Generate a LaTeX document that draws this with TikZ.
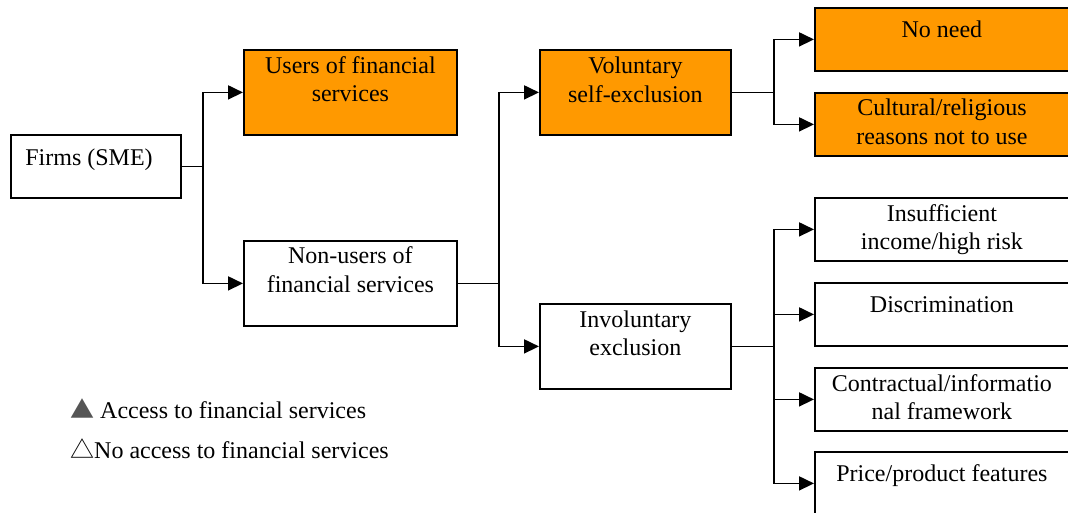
\documentclass[tikz,border=0pt]{standalone}
\usepackage{fontspec}
\setmainfont{Liberation Serif}
\newfontfamily\cjkfont{Noto Sans CJK SC}
\usetikzlibrary{arrows.meta,calc}
\definecolor{boxorange}{HTML}{FF9900}
\definecolor{tri}{HTML}{555555}
\begin{document}
\begin{tikzpicture}[x=1pt,y=-1pt,
  box/.style={draw=black, line width=1.8pt, rectangle, inner sep=0pt, anchor=north west},
  obox/.style={box, fill=boxorange},
  txt/.style={font=\fontsize{24}{28.4}\selectfont, align=center, inner sep=0pt, anchor=base},
  conn/.style={line width=1.8pt},
  arr/.style={line width=1.8pt, -{Triangle[length=15pt,width=14pt]}}]
\useasboundingbox (0,0) rectangle (1068,512);
% boxes
\node[box,  minimum width=170pt, minimum height=63pt] (firms) at (10,134) {};
\node[obox, minimum width=213pt, minimum height=85pt] (users) at (243,49) {};
\node[box,  minimum width=213pt, minimum height=85pt] (non) at (243,240) {};
\node[obox, minimum width=191pt, minimum height=85pt] (vol) at (539,49) {};
\node[box,  minimum width=191pt, minimum height=85pt] (invol) at (539,303) {};
\node[obox, minimum width=256pt, minimum height=63pt] (noneed) at (814,7) {};
\node[obox, minimum width=256pt, minimum height=63pt] (cult) at (814,92) {};
\node[box,  minimum width=256pt, minimum height=63pt] (insuf) at (814,197) {};
\node[box,  minimum width=256pt, minimum height=63pt] (discr) at (814,282) {};
\node[box,  minimum width=256pt, minimum height=63pt] (contr) at (814,367) {};
\node[box,  minimum width=256pt, minimum height=63pt] (price) at (814,451) {};
% texts (base = baseline of last line)
\node[txt] (tfirms) at (89,165) {Firms (SME)};
\node[txt] (tusers) at ($(users.north)+(0,52.5)$) {Users of financial\\services};
\node[txt] (tnon) at ($(non.north)+(0,52)$) {Non-users of\\financial services};
\node[txt] (tvol) at ($(vol.north)+(0,53)$) {Voluntary\\self-exclusion};
\node[txt] (tinvol) at ($(invol.north)+(0,52.5)$) {Involuntary\\exclusion};
\node[txt] (tnoneed) at ($(noneed.north)+(-1,30.5)$) {No need};
\node[txt] (tcult) at ($(cult.north)+(-1,52)$) {Cultural/religious\\reasons not to use};
\node[txt] (tinsuf) at ($(insuf.north)+(-1,52.5)$) {Insufficient\\income/high risk};
\node[txt] (tdiscr) at ($(discr.north)+(-1,30.7)$) {Discrimination};
\node[txt] (tcontr) at ($(contr.north)+(-1,52.7)$) {Contractual/informatio\\nal framework};
\node[txt] (tprice) at ($(price.north)+(-1,30.7)$) {Price/product features};
% connectors
\draw[conn] (firms.east) -- ++(21,0) coordinate (j1);
\draw[arr] (j1) |- (users.west);
\draw[arr] (j1) |- (non.west);
\draw[conn] (non.east) -- ++(41,0) coordinate (j2);
\draw[arr] (j2) |- (vol.west);
\draw[arr] (j2) |- (invol.west);
\draw[conn] (vol.east) -- ++(42,0) coordinate (j3);
\draw[arr] (j3) |- (noneed.west);
\draw[arr] (j3) |- (cult.west);
\draw[conn] (invol.east) -- ++(42,0) coordinate (j4);
\draw[arr] (j4) |- (insuf.west);
\draw[arr] (j4) |- (discr.west);
\draw[arr] (j4) |- (contr.west);
\draw[arr] (j4) |- (price.west);
% legend
\node[txt, anchor=base west] (leg1) at (70,418) {{\cjkfont\color{tri}▲} Access to financial services};
\node[txt, anchor=base west] (leg2) at (70,458) {{\cjkfont △}No access to financial services};
\end{tikzpicture}
\end{document}
